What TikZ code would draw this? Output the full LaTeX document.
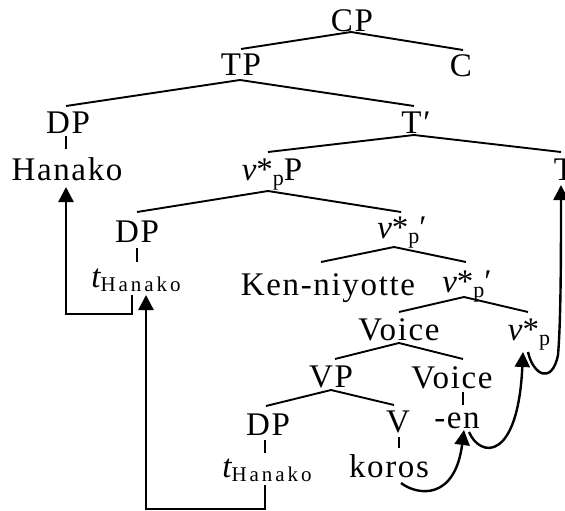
\documentclass[tikz,border=0pt]{standalone}
\usepackage{fontspec}
\setmainfont{Liberation Serif}[LetterSpace=5]
\newfontfamily\subfont{Liberation Serif}[LetterSpace=14]
\usetikzlibrary{arrows.meta}
\newcommand\vv{{\itshape v}*}
\newcommand\subp{\raisebox{-5pt}{\fontsize{22}{22}\selectfont p}}
\newcommand\tsub{{\itshape t}\raisebox{-4pt}{\subfont\fontsize{21}{21}\selectfont Hanako}}
\tikzset{
  lab/.style={anchor=base,inner sep=0pt,font=\fontsize{33}{38}\selectfont},
  br/.style={line width=1.9pt},
  mv/.style={line width=2.4pt,-{Triangle[length=15pt,width=15pt]}}
}
\begin{document}
\begin{tikzpicture}[x=1pt,y=-1pt]
\useasboundingbox (0,0) rectangle (565,511);
% nodes
\node[lab] (CP) at (352,32) {CP};
\node[lab] (TP) at (241,76) {TP};
\node[lab] (C) at (461,77) {C};
\node[lab] (DPa) at (68,133) {DP};
\node[lab] (Tbar) at (416,133) {T′};
\node[lab] (Hanako) at (67,180) {Hanako};
\node[lab] (vPP) at (272,180) {\vv\subp P};
\node[lab] (T) at (564,180) {T};
\node[lab] (DPb) at (137,242) {DP};
\node[lab] (vpbar1) at (402,238) {\vv\subp′};
\node[lab] (tHb) at (136,287) {\tsub};
\node[lab] (Ken) at (328,295) {Ken-niyotte};
\node[lab] (vpbar2) at (467,292) {\vv\subp′};
\node[lab] (Voice) at (399,340) {Voice};
\node[lab] (vp) at (529,340) {\vv\subp};
\node[lab] (VP) at (331,387) {VP};
\node[lab] (Voice2) at (452,388) {Voice};
\node[lab] (DPc) at (268,435) {DP};
\node[lab] (V) at (398,432) {V};
\node[lab] (en) at (457,428) {-en};
\node[lab] (tHc) at (267,477) {\tsub};
\node[lab] (koros) at (389,477) {koros};
% branch end points
\coordinate (CP-b) at (351,32);
\coordinate (TP-t) at (241,49);
\coordinate (C-t) at (463,50);
\coordinate (TP-b) at (240,80);
\coordinate (DPa-t) at (66,106);
\coordinate (Tbar-t) at (414,106);
\coordinate (DPa-b) at (66,136);
\coordinate (Hanako-t) at (66,149);
\coordinate (Tbar-b) at (414,135);
\coordinate (vPP-t) at (268,152);
\coordinate (T-t) at (561,152);
\coordinate (vPP-b) at (268,191);
\coordinate (DPb-t) at (137,212);
\coordinate (vpbar1-t) at (401,212);
\coordinate (DPb-b) at (137,248);
\coordinate (tHb-t) at (137,262);
\coordinate (vpbar1-b) at (394,247);
\coordinate (Ken-t) at (321,262);
\coordinate (vpbar2-t) at (466,262);
\coordinate (vpbar2-b) at (464,297);
\coordinate (Voice-t) at (399,312);
\coordinate (vp-t) at (528,312);
\coordinate (Voice-b) at (399,343);
\coordinate (VP-t) at (335,359);
\coordinate (Voice2-t) at (463,359);
\coordinate (VP-b) at (331,390);
\coordinate (DPc-t) at (266,406);
\coordinate (V-t) at (394,405);
\coordinate (Voice2-b) at (463,392);
\coordinate (en-t) at (463,405);
\coordinate (DPc-b) at (265,440);
\coordinate (tHc-t) at (265,453);
\coordinate (V-b) at (399,437);
\coordinate (koros-t) at (399,448);
% branches
\draw[br] (TP-t) -- (CP-b) -- (C-t);
\draw[br] (DPa-t) -- (TP-b) -- (Tbar-t);
\draw[br] (DPa-b) -- (Hanako-t);
\draw[br] (vPP-t) -- (Tbar-b) -- (T-t);
\draw[br] (DPb-t) -- (vPP-b) -- (vpbar1-t);
\draw[br] (DPb-b) -- (tHb-t);
\draw[br] (Ken-t) -- (vpbar1-b) -- (vpbar2-t);
\draw[br] (Voice-t) -- (vpbar2-b) -- (vp-t);
\draw[br] (VP-t) -- (Voice-b) -- (Voice2-t);
\draw[br] (DPc-t) -- (VP-b) -- (V-t);
\draw[br] (Voice2-b) -- (en-t);
\draw[br] (DPc-b) -- (tHc-t);
\draw[br] (V-b) -- (koros-t);
% movement arrows
\coordinate (tHc-s) at (265,485);
\coordinate (tHb-tip) at (146,295);
\coordinate (tHb-s) at (132,295);
\coordinate (Hanako-tip) at (66,187);
\coordinate (koros-s) at (401,483);
\coordinate (en-tip) at (464,430);
\coordinate (en-s) at (469,432);
\coordinate (vp-tip) at (523,352);
\coordinate (vp-s) at (528,352);
\coordinate (T-tip) at (561,185);
\draw[mv] (tHc-s) |- (146,509) -- (tHb-tip);
\draw[mv] (tHb-s) |- (66,314) -- (Hanako-tip);
\draw[mv] (koros-s) .. controls (418,496) and (455,500) .. (en-tip);
\draw[mv] (en-s) .. controls (480,458) and (518,462) .. (vp-tip);
\draw[mv] (vp-s) .. controls (533,375) and (552,385) .. (558,355) .. controls (561,320) and (561,250) .. (T-tip);
\end{tikzpicture}
\end{document}
